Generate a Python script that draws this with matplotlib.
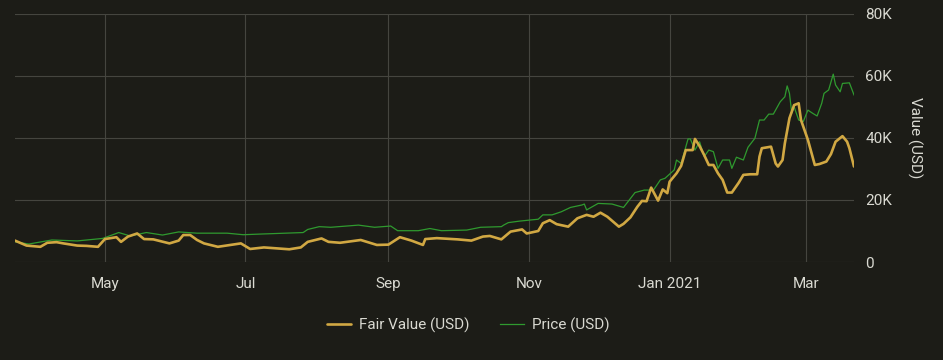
import matplotlib
matplotlib.use("Agg")
import matplotlib.pyplot as plt
import matplotlib.dates as mdates
import pandas as pd
from matplotlib.ticker import FuncFormatter, FixedLocator

price_dates = ["2020-03-23","2020-03-29","2020-04-08","2020-04-19","2020-04-30","2020-05-07",
    "2020-05-12","2020-05-19","2020-05-26","2020-06-02","2020-06-10","2020-06-23","2020-06-30",
    "2020-07-07","2020-07-26","2020-07-28","2020-08-02","2020-08-07","2020-08-19","2020-08-26",
    "2020-09-02","2020-09-05","2020-09-14","2020-09-19","2020-09-24","2020-10-05","2020-10-11",
    "2020-10-20","2020-10-21","2020-10-23","2020-10-28","2020-11-05","2020-11-07","2020-11-11",
    "2020-11-15","2020-11-19","2020-11-24","2020-11-25","2020-11-26","2020-12-01","2020-12-07",
    "2020-12-12","2020-12-17","2020-12-21","2020-12-25","2020-12-28","2020-12-30","2021-01-03",
    "2021-01-04","2021-01-06","2021-01-09","2021-01-10","2021-01-12","2021-01-14","2021-01-16",
    "2021-01-18","2021-01-20","2021-01-22","2021-01-24","2021-01-27","2021-01-28","2021-01-30",
    "2021-02-02","2021-02-04","2021-02-07","2021-02-09","2021-02-11","2021-02-13","2021-02-15",
    "2021-02-18","2021-02-20","2021-02-21","2021-02-22","2021-02-23","2021-02-24","2021-02-26",
    "2021-02-28","2021-03-02","2021-03-04","2021-03-06","2021-03-08","2021-03-09","2021-03-11",
    "2021-03-13","2021-03-14","2021-03-16","2021-03-17","2021-03-20","2021-03-22"]
price_k = [6.5,5.8,7.1,6.8,7.6,9.5,
    8.4,9.5,8.7,9.7,9.3,9.3,8.8,
    9.0,9.5,10.5,11.4,11.2,11.9,11.2,
    11.6,10.1,10.1,10.8,10.1,10.3,11.2,
    11.4,11.9,12.7,13.2,13.8,15.2,15.2,
    16.2,17.6,18.4,18.7,16.8,18.9,18.7,
    17.6,22.4,23.2,23.2,26.5,27.0,29.7,
    32.9,31.8,39.7,39.7,36.1,38.8,34.0,
    36.1,35.6,30.2,32.9,32.9,30.2,33.8,
    32.9,37.0,39.9,45.8,45.8,47.7,47.7,
    51.7,53.3,56.8,54.4,48.0,50.1,45.8,
    45.3,49.0,48.0,47.1,51.2,54.4,55.5,
    60.6,57.1,54.9,57.6,57.8,53.9]

fair_dates = ["2020-03-23","2020-03-28","2020-04-03","2020-04-06","2020-04-10","2020-04-13",
    "2020-04-19","2020-04-23","2020-04-28","2020-05-01","2020-05-06","2020-05-08","2020-05-11",
    "2020-05-15","2020-05-18","2020-05-22","2020-05-29","2020-06-02","2020-06-04","2020-06-07",
    "2020-06-10","2020-06-13","2020-06-19","2020-06-29","2020-07-03","2020-07-09","2020-07-20",
    "2020-07-25","2020-07-28","2020-08-03","2020-08-06","2020-08-11","2020-08-20","2020-08-27",
    "2020-09-01","2020-09-06","2020-09-11","2020-09-16","2020-09-17","2020-09-22","2020-10-01",
    "2020-10-07","2020-10-12","2020-10-15","2020-10-20","2020-10-24","2020-10-29","2020-10-31",
    "2020-11-05","2020-11-07","2020-11-10","2020-11-13","2020-11-18","2020-11-22","2020-11-26",
    "2020-11-29","2020-12-02","2020-12-05","2020-12-10","2020-12-12","2020-12-15","2020-12-18",
    "2020-12-20","2020-12-22","2020-12-24","2020-12-27","2020-12-29","2020-12-31","2021-01-01",
    "2021-01-04","2021-01-06","2021-01-08","2021-01-11","2021-01-12","2021-01-14","2021-01-16",
    "2021-01-18","2021-01-20","2021-01-22","2021-01-24","2021-01-26","2021-01-28","2021-01-31",
    "2021-02-02","2021-02-05","2021-02-08","2021-02-09","2021-02-10","2021-02-14","2021-02-16",
    "2021-02-17","2021-02-19","2021-02-20","2021-02-22","2021-02-24","2021-02-26","2021-02-27",
    "2021-03-02","2021-03-04","2021-03-05","2021-03-07","2021-03-10","2021-03-12","2021-03-14",
    "2021-03-17","2021-03-19","2021-03-20","2021-03-22"]
fair_k = [6.9,5.3,4.9,6.2,6.4,6.0,
    5.3,5.2,4.9,7.4,8.0,6.5,8.2,
    9.2,7.4,7.3,6.0,6.9,8.7,8.7,
    7.1,6.0,4.9,6.0,4.2,4.7,4.1,
    4.7,6.5,7.6,6.5,6.2,7.1,5.5,
    5.6,8.0,6.9,5.5,7.4,7.7,7.3,
    6.9,8.2,8.4,7.3,9.8,10.5,9.2,
    10.0,12.5,13.5,12.2,11.4,14.1,15.2,
    14.6,15.9,14.6,11.4,12.3,14.4,17.8,
    19.7,19.6,24.0,19.8,23.4,22.2,25.9,
    28.6,31.0,36.1,36.1,39.7,37.4,34.5,
    31.3,31.3,28.6,26.5,22.4,22.4,25.6,
    28.1,28.3,28.3,34.0,36.7,37.2,31.8,
    30.8,32.9,38.3,46.4,50.6,51.2,45.8,
    39.4,34.0,31.3,31.6,32.4,34.8,38.8,
    40.6,38.8,36.7,30.8]

x_ticks = ["2020-05-01","2020-07-01","2020-09-01","2020-11-01","2021-01-01","2021-03-01"]
x_tick_labels = ["May","Jul","Sep","Nov","Jan 2021","Mar"]
y_ticks = [0, 20000, 40000, 60000, 80000]

BG = "#1c1c17"
GRID = "#45453f"
TXT = "#d9d9d1"
GOLD = "#d1a843"
GREEN = "#2f9a2f"

plt.rcParams['font.family'] = ['Roboto', 'DejaVu Sans']

fig = plt.figure(figsize=(9.43, 3.6), dpi=100, facecolor=BG)
ax = fig.add_axes([15/943, 1-262/360, (854-15)/943, (262-14)/360], facecolor=BG)

pd_ = pd.to_datetime(price_dates)
fd_ = pd.to_datetime(fair_dates)
pv = [v*1000 for v in price_k]
fv = [v*1000 for v in fair_k]

ax.plot(pd_, pv, color=GREEN, lw=0.9, label="Price (USD)", zorder=2)
ax.plot(fd_, fv, color=GOLD, lw=1.9, label="Fair Value (USD)", zorder=3,
        solid_joinstyle='round', solid_capstyle='round')

ax.set_xlim(pd.Timestamp("2020-03-23"), pd.Timestamp("2021-03-22"))
ax.set_ylim(0, 80000)
ax.xaxis.set_major_locator(FixedLocator(mdates.date2num(pd.to_datetime(x_ticks))))
ax.set_xticklabels(x_tick_labels)
ax.yaxis.tick_right()
ax.yaxis.set_label_position("right")
ax.set_yticks(y_ticks)
ax.yaxis.set_major_formatter(FuncFormatter(lambda v, p: "0" if v == 0 else f"{int(v/1000)}K"))
for s in ax.spines.values():
    s.set_visible(False)
ax.grid(True, color=GRID, lw=0.8)
ax.tick_params(axis='both', length=0, colors=TXT, labelsize=11)
ax.tick_params(axis='x', pad=11)
ax.tick_params(axis='y', pad=8)
ax.set_ylabel("Value (USD)", color=TXT, fontsize=11, rotation=270, labelpad=22)

handles, labels = ax.get_legend_handles_labels()
order = [1, 0]
leg = fig.legend([handles[i] for i in order], [labels[i] for i in order],
                 loc='center', bbox_to_anchor=(468/943, 1-325/360), ncol=2, frameon=False,
                 fontsize=11, handlelength=1.6, columnspacing=2.0, handletextpad=0.5)
for t in leg.get_texts():
    t.set_color(TXT)

fig.savefig("out.png", dpi=100, facecolor=BG)
